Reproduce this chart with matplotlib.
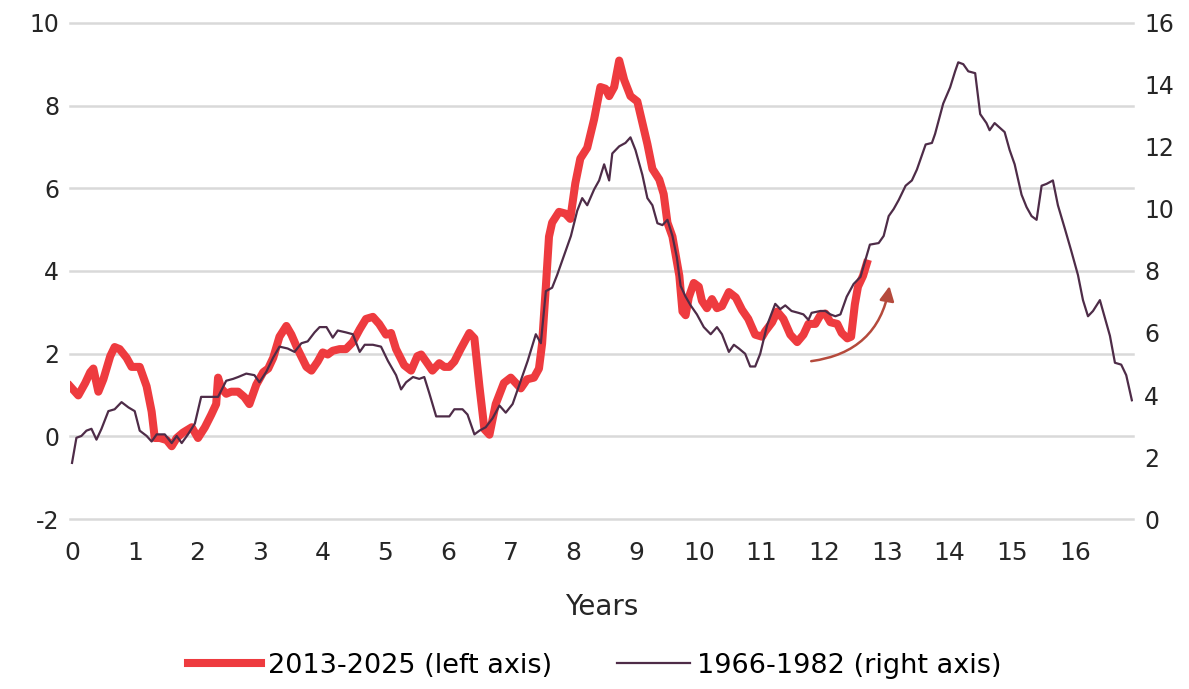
import matplotlib
matplotlib.use("Agg")
import matplotlib.pyplot as plt
from matplotlib.patches import FancyArrowPatch

plt.rcParams["axes.unicode_minus"] = False

# 2013-2025 inflation path, left axis (years since start, %)
red_years = [
    -0.03, 0.10, 0.21, 0.29, 0.34, 0.42, 0.50, 0.61, 0.68, 0.76, 0.87, 0.95, 1.08, 1.19,
    1.27, 1.32, 1.40, 1.51, 1.59, 1.67, 1.77, 1.91, 2.01, 2.12, 2.22, 2.30, 2.33, 2.38,
    2.46, 2.54, 2.65, 2.75, 2.83, 2.94, 3.05, 3.13, 3.21, 3.31, 3.42, 3.50, 3.60, 3.74,
    3.82, 3.92, 4.00, 4.08, 4.16, 4.27, 4.37, 4.48, 4.59, 4.69, 4.80, 4.90, 5.01, 5.09,
    5.17, 5.30, 5.41, 5.51, 5.57, 5.65, 5.75, 5.86, 5.94, 6.02, 6.10, 6.20, 6.34, 6.42,
    6.50, 6.58, 6.66, 6.76, 6.89, 7.00, 7.08, 7.16, 7.26, 7.37, 7.45, 7.50, 7.56, 7.61,
    7.66, 7.77, 7.87, 7.95, 8.03, 8.11, 8.22, 8.33, 8.43, 8.51, 8.57, 8.65, 8.73, 8.81,
    8.91, 9.02, 9.10, 9.18, 9.26, 9.37, 9.44, 9.50, 9.58, 9.69, 9.74, 9.79, 9.84, 9.92,
    10.00, 10.05, 10.13, 10.21, 10.29, 10.37, 10.48, 10.59, 10.69, 10.79, 10.90, 11.01,
    11.06, 11.17, 11.25, 11.35, 11.46, 11.57, 11.67, 11.75, 11.86, 11.94, 12.02, 12.10,
    12.21, 12.28, 12.37, 12.43, 12.49, 12.54, 12.62, 12.68,
]
red_vals = [
    1.21, 0.99, 1.29, 1.55, 1.64, 1.08, 1.38, 1.94, 2.16, 2.11, 1.90, 1.68, 1.68, 1.21,
    0.60, -0.04, -0.04, -0.09, -0.24, -0.04, 0.09, 0.22, -0.04, 0.22, 0.52, 0.78, 1.42, 1.16,
    1.03, 1.08, 1.08, 0.95, 0.78, 1.25, 1.55, 1.64, 1.90, 2.41, 2.67, 2.46, 2.11, 1.68,
    1.59, 1.81, 2.03, 1.98, 2.07, 2.11, 2.11, 2.28, 2.59, 2.84, 2.89, 2.72, 2.46, 2.50,
    2.11, 1.72, 1.59, 1.94, 1.98, 1.81, 1.59, 1.77, 1.68, 1.68, 1.81, 2.11, 2.50, 2.37,
    1.21, 0.17, 0.04, 0.78, 1.29, 1.42, 1.29, 1.16, 1.38, 1.42, 1.64, 2.24, 3.62, 4.83,
    5.17, 5.43, 5.39, 5.26, 6.12, 6.72, 6.98, 7.67, 8.45, 8.41, 8.23, 8.45, 9.09, 8.62,
    8.23, 8.10, 7.59, 7.07, 6.47, 6.21, 5.86, 5.17, 4.83, 3.88, 3.02, 2.93, 3.36, 3.71,
    3.62, 3.28, 3.10, 3.32, 3.10, 3.15, 3.49, 3.36, 3.06, 2.84, 2.46, 2.41,
    2.54, 2.76, 3.02, 2.84, 2.46, 2.28, 2.46, 2.72, 2.72, 2.93, 2.97, 2.76,
    2.72, 2.50, 2.37, 2.41, 3.19, 3.62, 3.88, 4.18,
]

# 1966-1982 inflation path, right axis
purple_years = [
    0.00, 0.07, 0.15, 0.23, 0.31, 0.39, 0.47, 0.58, 0.68, 0.79, 0.90, 1.00, 1.08, 1.19,
    1.27, 1.35, 1.48, 1.59, 1.67, 1.75, 1.85, 1.96, 2.06, 2.20, 2.33, 2.46, 2.57, 2.65,
    2.78, 2.91, 2.99, 3.10, 3.21, 3.31, 3.44, 3.55, 3.66, 3.76, 3.87, 3.95, 4.06, 4.16,
    4.24, 4.37, 4.48, 4.59, 4.67, 4.80, 4.93, 5.04, 5.17, 5.25, 5.33, 5.44, 5.54, 5.62,
    5.70, 5.81, 5.91, 6.02, 6.10, 6.23, 6.31, 6.42, 6.50, 6.60, 6.71, 6.82, 6.92, 7.03,
    7.13, 7.27, 7.40, 7.48, 7.56, 7.66, 7.74, 7.85, 7.96, 8.06, 8.14, 8.22, 8.33, 8.41,
    8.49, 8.57, 8.62, 8.73, 8.83, 8.91, 8.99, 9.10, 9.18, 9.26, 9.34, 9.42, 9.50, 9.58,
    9.65, 9.71, 9.79, 9.87, 9.97, 10.08, 10.19, 10.29, 10.37, 10.48, 10.56, 10.64, 10.74,
    10.82, 10.90, 10.98, 11.09, 11.22, 11.30, 11.38, 11.48, 11.59, 11.67, 11.75, 11.80,
    11.94, 12.02, 12.10, 12.18, 12.26, 12.36, 12.47, 12.58, 12.68, 12.73, 12.87, 12.95,
    13.03, 13.11, 13.19, 13.30, 13.40, 13.48, 13.62, 13.72, 13.77, 13.90, 14.01, 14.09,
    14.14, 14.22, 14.30, 14.41, 14.49, 14.59, 14.64, 14.72, 14.88, 14.96, 15.04, 15.15,
    15.23, 15.31, 15.39, 15.47, 15.55, 15.65, 15.73, 15.84, 15.94, 16.05, 16.13, 16.21,
    16.29, 16.40, 16.48, 16.56, 16.64, 16.74, 16.82, 16.91,
]
purple_vals = [
    1.81, 2.62, 2.68, 2.85, 2.91, 2.56, 2.91, 3.48, 3.54, 3.77, 3.60, 3.48, 2.85, 2.68,
    2.50, 2.73, 2.73, 2.45, 2.68, 2.45, 2.73, 3.08, 3.94, 3.94, 3.94, 4.46, 4.52, 4.58,
    4.69, 4.64, 4.41, 4.75, 5.21, 5.56, 5.50, 5.39, 5.67, 5.73, 6.02, 6.19, 6.19, 5.85,
    6.08, 6.02, 5.96, 5.39, 5.62, 5.62, 5.56, 5.10, 4.64, 4.18, 4.41, 4.58, 4.52, 4.58,
    4.06, 3.31, 3.31, 3.31, 3.54, 3.54, 3.37, 2.73, 2.85, 2.96, 3.25, 3.66, 3.43, 3.71,
    4.29, 5.10, 5.96, 5.67, 7.35, 7.46, 7.87, 8.50, 9.13, 9.94, 10.35, 10.12, 10.63, 10.92,
    11.44, 10.92, 11.79, 12.02, 12.13, 12.31, 11.90, 11.10, 10.35, 10.12, 9.54, 9.48, 9.65, 9.13,
    8.44, 7.52, 7.17, 6.89, 6.60, 6.19, 5.96, 6.19, 5.96, 5.39, 5.62, 5.50, 5.33,
    4.92, 4.92, 5.33, 6.25, 6.94, 6.77, 6.89, 6.71, 6.65, 6.60, 6.42, 6.65,
    6.71, 6.71, 6.60, 6.54, 6.60, 7.17, 7.58, 7.81, 8.50, 8.85, 8.90, 9.13,
    9.77, 10.00, 10.29, 10.75, 10.92, 11.27, 12.08, 12.13, 12.42, 13.40, 13.92, 14.44,
    14.73, 14.67, 14.44, 14.38, 13.06, 12.77, 12.54, 12.77, 12.48, 11.90, 11.44, 10.46,
    10.06, 9.77, 9.65, 10.75, 10.81, 10.92, 10.12, 9.37, 8.67, 7.87, 7.06, 6.54,
    6.71, 7.06, 6.48, 5.91, 5.04, 4.98, 4.64, 3.83,
]

x_ticks = list(range(0, 17))
left_ticks = [-2, 0, 2, 4, 6, 8, 10]
right_ticks = [0, 2, 4, 6, 8, 10, 12, 14, 16]

red = "#ee3b3f"
plum = "#4e2c48"
text_col = "#262626"

fig = plt.figure(figsize=(11.89, 6.89), dpi=100)
ax = fig.add_axes([0.059, 0.2467, 0.894, 0.72])
ax2 = ax.twinx()

ax.set_ylim(-2, 10)
ax2.set_ylim(0, 16)
ax.set_xlim(-0.03, 16.93)

ax.set_yticks(left_ticks)
ax2.set_yticks(right_ticks)
ax.set_xticks(x_ticks)
ax.set_xticklabels([str(t) for t in x_ticks], fontsize=18, color=text_col)

ax.grid(axis="y", color="#d9d9d9", linewidth=1.8)
for gl in ax.get_ygridlines():
    gl.set_clip_on(False)
ax.set_axisbelow(True)
for a in (ax, ax2):
    for s in a.spines.values():
        s.set_visible(False)
    a.tick_params(length=0)

ax.tick_params(axis="y", labelsize=17, labelcolor=text_col, pad=8)
ax2.tick_params(axis="y", labelsize=17, labelcolor=text_col, pad=8)
ax.tick_params(axis="x", pad=16)

l1, = ax.plot(red_years, red_vals, color=red, linewidth=5.8, solid_joinstyle="round",
              label="2013-2025 (left axis)", zorder=3)
l2, = ax2.plot(purple_years, purple_vals, color=plum, linewidth=1.6,
               label="1966-1982 (right axis)", zorder=4)

# curved arrow annotation
arrow = FancyArrowPatch((11.75, 1.81), (13.05, 3.7), connectionstyle="arc3,rad=0.38",
                        arrowstyle="-|>", mutation_scale=22, color="#b54a3c",
                        linewidth=1.8, zorder=5)
ax.add_patch(arrow)

ax.set_xlabel("Years", fontsize=20, color=text_col, labelpad=20)

fig.legend(handles=[l1, l2], loc="center", bbox_to_anchor=(0.5, 0.034), ncol=2,
           frameon=False, handlelength=2.7, handletextpad=0.25, columnspacing=2.4,
           prop={"size": 19.5})

fig.savefig("out.png", dpi=100, facecolor="white")
